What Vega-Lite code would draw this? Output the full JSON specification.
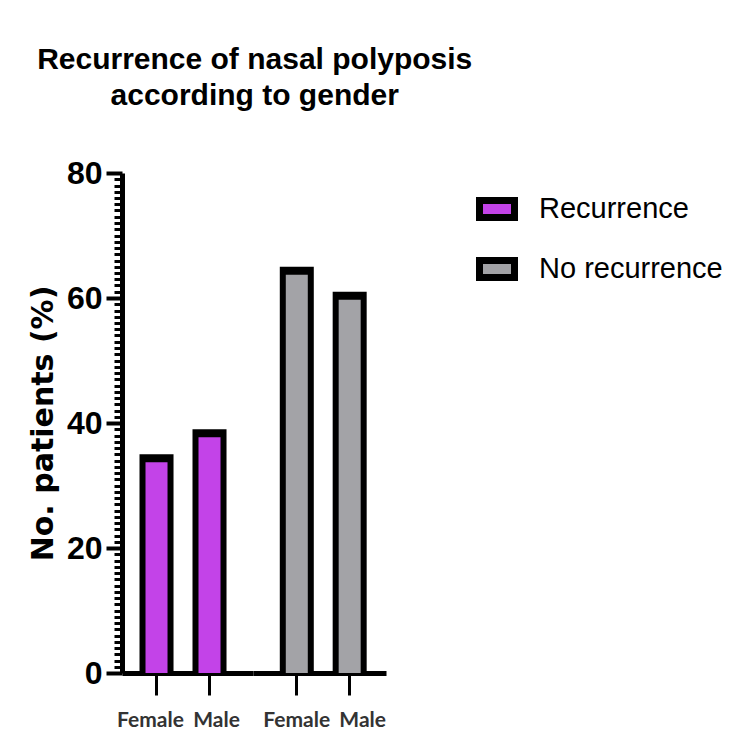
{
  "$schema": "https://vega.github.io/schema/vega-lite/v6.json",
  "background": "white",
  "padding": {"left": 28, "top": 45, "right": 5, "bottom": 5},
  "title": {
    "text": ["Recurrence of nasal polyposis", "according to gender"],
    "font": "Liberation Sans",
    "fontSize": 30,
    "fontWeight": "bold",
    "lineHeight": 36,
    "color": "black",
    "anchor": "middle",
    "dx": -121,
    "offset": 46
  },
  "data": {
    "values": [
      {"outcome": "Recurrence", "gender": "Female", "percent": 35},
      {"outcome": "Recurrence", "gender": "Male", "percent": 39},
      {"outcome": "No recurrence", "gender": "Female", "percent": 65},
      {"outcome": "No recurrence", "gender": "Male", "percent": 61}
    ]
  },
  "spacing": 0,
  "hconcat": [
    {
      "width": 131,
      "height": 500,
      "transform": [{"filter": "datum.outcome === 'Recurrence'"}],
      "encoding": {
        "x": {
          "field": "gender",
          "type": "nominal",
          "sort": ["Female", "Male"],
          "scale": {"paddingInner": 0.358, "paddingOuter": 0.415, "align": 0.398},
          "axis": {
            "title": null,
            "labelAngle": 0,
            "domainColor": "black",
            "domainWidth": 5,
            "tickColor": "black",
            "tickWidth": 3,
            "tickSize": 22,
            "labelFont": "Lato",
            "labelFontSize": 21,
            "labelFontWeight": "bold",
            "labelColor": "#333333",
            "labelPadding": 14,
            "labelOffset": {"condition": {"test": "datum.value === 'Female'", "value": -6}, "value": 7}
          }
        },
        "y": {
          "field": "percent",
          "type": "quantitative",
          "scale": {"domain": [0, 80], "nice": false},
          "axis": {
            "title": "No. patients (%)",
            "grid": false,
            "values": [0,1,2,3,4,5,6,7,8,9,10,11,12,13,14,15,16,17,18,19,20,21,22,23,24,25,26,27,28,29,30,31,32,33,34,35,36,37,38,39,40,41,42,43,44,45,46,47,48,49,50,51,52,53,54,55,56,57,58,59,60,61,62,63,64,65,66,67,68,69,70,71,72,73,74,75,76,77,78,79,80],
            "labelExpr": "datum.value % 20 === 0 ? datum.label : ''",
            "labelOverlap": false,
            "domainColor": "black",
            "domainWidth": 5,
            "tickColor": "black",
            "tickSize": {"condition": {"test": "datum.value % 20 === 0", "value": 16}, "value": 8},
            "tickWidth": {"condition": {"test": "datum.value % 20 === 0", "value": 4}, "value": 3},
            "labelFont": "Liberation Sans",
            "labelFontSize": 32,
            "labelFontWeight": "bold",
            "labelColor": "black",
            "labelPadding": 4,
            "titleFont": "DejaVu Sans",
            "titleFontSize": 30,
            "titleFontWeight": "bold",
            "titleColor": "black",
            "titlePadding": 8
          }
        }
      },
      "layer": [
        {"mark": {"type": "bar", "color": "black"}},
        {
          "mark": {"type": "bar", "width": {"band": 0.647}, "yOffset": 8, "clip": true, "opacity": 1},
          "encoding": {
            "color": {
              "field": "outcome",
              "type": "nominal",
              "scale": {"domain": ["Recurrence", "No recurrence"], "range": ["#C343E8", "#A3A3A7"]},
              "legend": {
                "title": null,
                "orient": "none",
                "legendX": 354,
                "legendY": 15,
                "symbolType": "M-1,-0.4857H1V0.4857H-1Z",
                "symbolSize": 1225,
                "symbolStrokeColor": "black",
                "symbolStrokeWidth": 7,
                "symbolOpacity": 1,
                "labelFont": "Liberation Sans",
                "labelFontSize": 29,
                "labelColor": "black",
                "labelOffset": 21,
                "labelLimit": 300,
                "rowPadding": 14
              }
            }
          }
        }
      ]
    },
    {
      "width": 133,
      "height": 500,
      "transform": [{"filter": "datum.outcome === 'No recurrence'"}],
      "encoding": {
        "x": {
          "field": "gender",
          "type": "nominal",
          "sort": ["Female", "Male"],
          "scale": {"paddingInner": 0.357, "paddingOuter": 0.436, "align": 0.581},
          "axis": {
            "title": null,
            "labelAngle": 0,
            "domainColor": "black",
            "domainWidth": 5,
            "tickColor": "black",
            "tickWidth": 3,
            "tickSize": 22,
            "labelFont": "Lato",
            "labelFontSize": 21,
            "labelFontWeight": "bold",
            "labelColor": "#333333",
            "labelPadding": 14,
            "labelOffset": {"condition": {"test": "datum.value === 'Female'", "value": 0}, "value": 13}
          }
        },
        "y": {
          "field": "percent",
          "type": "quantitative",
          "scale": {"domain": [0, 80], "nice": false},
          "axis": null
        }
      },
      "layer": [
        {"mark": {"type": "bar", "color": "black"}},
        {
          "mark": {"type": "bar", "width": {"band": 0.647}, "yOffset": 8, "clip": true, "opacity": 1},
          "encoding": {
            "color": {
              "field": "outcome",
              "type": "nominal",
              "scale": {"domain": ["Recurrence", "No recurrence"], "range": ["#C343E8", "#A3A3A7"]},
              "legend": {
                "title": null,
                "orient": "none",
                "legendX": 354,
                "legendY": 15,
                "symbolType": "M-1,-0.4857H1V0.4857H-1Z",
                "symbolSize": 1225,
                "symbolStrokeColor": "black",
                "symbolStrokeWidth": 7,
                "symbolOpacity": 1,
                "labelFont": "Liberation Sans",
                "labelFontSize": 29,
                "labelColor": "black",
                "labelOffset": 21,
                "labelLimit": 300,
                "rowPadding": 14
              }
            }
          }
        }
      ]
    }
  ],
  "resolve": {"scale": {"color": "shared"}},
  "config": {
    "view": {"stroke": null}
  }
}
